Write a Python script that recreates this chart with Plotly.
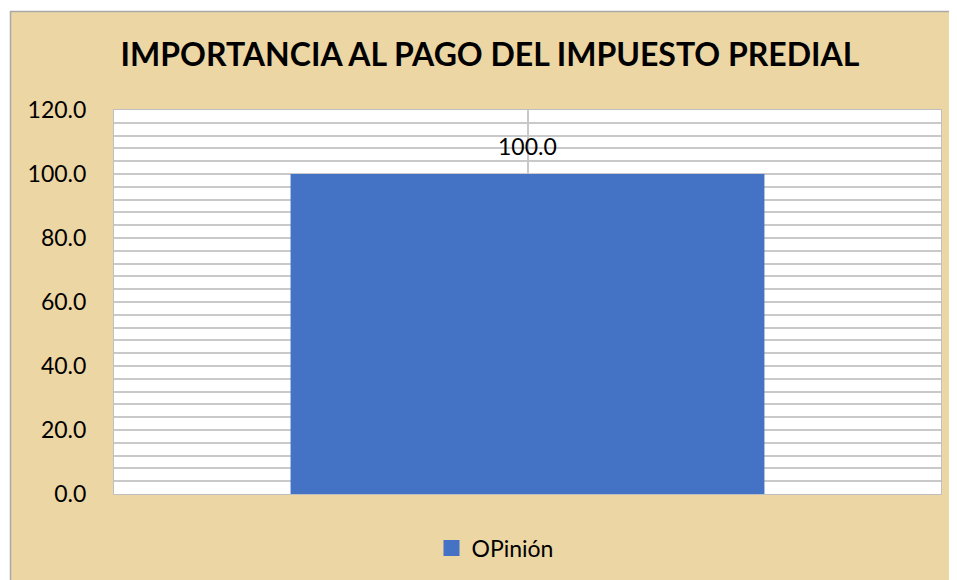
import plotly.graph_objects as go

categories = ["Importancia"]
series_name = "OPinión"
values = [100.0]
title_text = "IMPORTANCIA AL PAGO DEL IMPUESTO PREDIAL"

OFF = 8  # page body margin
W, H = 957 - OFF, 580 - OFF
ML, MT = 114 - OFF, 110 - OFF
MR = W - (941 - OFF)
MB = H - (494 - OFF)
pw = W - ML - MR
ph = H - MT - MB

def px_x(p):
    return (p - OFF - ML) / pw

def px_y(p):
    return (H - MB - (p - OFF)) / ph

tan = "#ECD6A3"
grid = "#C9C9C9"

fig = go.Figure()
fig.add_trace(go.Bar(
    x=categories, y=values, name=series_name,
    marker=dict(color="#4472C4", line=dict(width=0)),
    width=0.573,
    showlegend=False,
))
# legend entry with a larger square swatch
fig.add_trace(go.Scatter(
    x=[None], y=[None], mode="markers", name=series_name,
    marker=dict(symbol="square", size=16, color="#4472C4"),
    showlegend=True,
))

for c, v in zip(categories, values):
    fig.add_annotation(x=c, y=v, text=f"{v:.1f}", showarrow=False,
                       yanchor="bottom", yshift=12,
                       font=dict(family="Lato", size=23, color="#000000"))

shapes = [
    dict(type="rect", xref="paper", yref="paper", x0=px_x(-20), x1=px_x(W + 40),
         y0=px_y(-20), y1=px_y(11), fillcolor="white", line=dict(width=0), layer="above"),
    dict(type="rect", xref="paper", yref="paper", x0=px_x(-20), x1=px_x(10),
         y0=px_y(H + 40), y1=px_y(-20), fillcolor="white", line=dict(width=0), layer="above"),
    dict(type="rect", xref="paper", yref="paper", x0=px_x(10.5), x1=px_x(W + 40),
         y0=px_y(H + 40), y1=px_y(11.5), fillcolor="rgba(0,0,0,0)",
         line=dict(color="#A8A8A8", width=1.5), layer="above"),
]

fig.update_layout(
    width=W, height=H,
    margin=dict(l=ML, r=MR, t=MT, b=MB, autoexpand=False),
    paper_bgcolor=tan,
    plot_bgcolor="white",
    title=dict(text=f"<b>{title_text}</b>", x=(490 - OFF) / W, xanchor="center",
               y=1 - (55 - OFF) / H, yanchor="middle", xref="container", yref="container",
               font=dict(family="Lato", size=32, color="#000000")),
    showlegend=True,
    legend=dict(orientation="h", x=px_x(495), xanchor="center", y=px_y(548),
                yanchor="middle", font=dict(family="Lato", size=23, color="#000000"),
                bgcolor="rgba(0,0,0,0)", itemwidth=30),
    shapes=shapes,
)

fig.update_yaxes(range=[0, 120], dtick=20, tickformat=".1f",
                 tickfont=dict(family="Lato", size=23, color="#000000"),
                 showgrid=True, gridcolor=grid, gridwidth=1.5,
                 minor=dict(dtick=4, showgrid=True, gridcolor=grid, gridwidth=1.5),
                 showline=True, linecolor="#BFBFBF", linewidth=1, mirror=True,
                 zeroline=False, ticks="", ticklabelstandoff=22, fixedrange=True)
fig.update_xaxes(range=[-0.5, 0.5], showticklabels=False, showgrid=True, gridcolor=grid,
                 gridwidth=1.5, showline=True, linecolor="#BFBFBF", linewidth=1, mirror=True,
                 ticks="", fixedrange=True)

fig.write_html("out.html", config=dict(displayModeBar=False))
